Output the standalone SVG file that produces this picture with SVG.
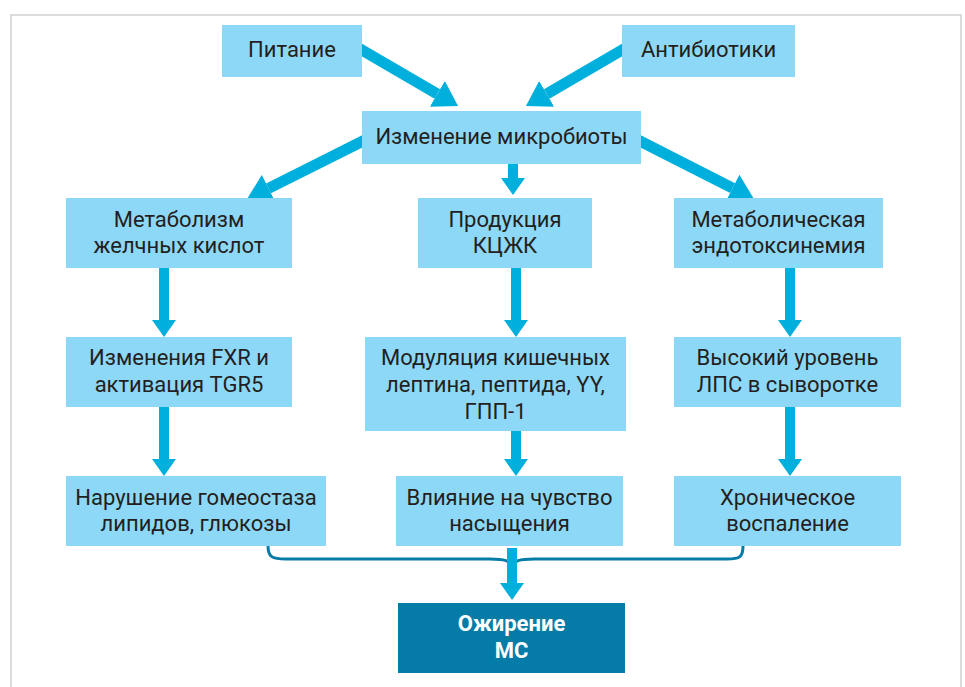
<svg xmlns="http://www.w3.org/2000/svg" width="965" height="687" viewBox="0 0 965 687">
<style>
.box{fill:#8ed8f7}
.dark{fill:#047ca7}
.t{font-family:Roboto,"Liberation Sans",sans-serif;font-size:22px;fill:#231f20;text-anchor:middle}
.w{font-family:Roboto,"Liberation Sans",sans-serif;font-size:22px;font-weight:bold;fill:#ffffff;text-anchor:middle}
.sh{stroke:#00afdc;stroke-width:10;fill:none}
.shd{stroke:#00afdc;stroke-width:11;fill:none}
</style>
<defs>
<marker id="ah" markerUnits="userSpaceOnUse" viewBox="0 -12 17 24" markerWidth="17" markerHeight="24" refX="0" refY="0" orient="auto">
<path d="M0,-12 L17,0 L0,12 z" fill="#00afdc"/>
</marker>
<marker id="ahd" markerUnits="userSpaceOnUse" viewBox="0 -15 24 30" markerWidth="24" markerHeight="30" refX="0" refY="0" orient="auto">
<path d="M0,-15 L24,0 L0,15 z" fill="#00afdc"/>
</marker>
</defs>
<rect x="0" y="0" width="965" height="687" fill="#ffffff"/>
<rect x="11" y="15" width="950" height="700" fill="none" stroke="#cfcfcf" stroke-width="1.5"/>
<g id="connectors">
<line class="shd" x1="355" y1="46" x2="437.3" y2="93.9" marker-end="url(#ahd)"/>
<line class="shd" x1="629" y1="46" x2="546.7" y2="93.9" marker-end="url(#ahd)"/>
<line class="shd" x1="369" y1="138" x2="268.5" y2="188.3" marker-end="url(#ahd)"/>
<line class="shd" x1="634" y1="138" x2="732.6" y2="188.1" marker-end="url(#ahd)"/>
<line class="sh" x1="513" y1="160" x2="513" y2="178" marker-end="url(#ah)"/>
<line class="sh" x1="164" y1="265" x2="164" y2="320" marker-end="url(#ah)"/>
<line class="sh" x1="516" y1="265" x2="516" y2="320" marker-end="url(#ah)"/>
<line class="sh" x1="790" y1="265" x2="790" y2="320" marker-end="url(#ah)"/>
<line class="sh" x1="164" y1="404" x2="164" y2="459" marker-end="url(#ah)"/>
<line class="sh" x1="516" y1="428" x2="516" y2="459" marker-end="url(#ah)"/>
<line class="sh" x1="790" y1="404" x2="790" y2="459" marker-end="url(#ah)"/>
<path d="M268,546 C268,557 272,559 286,559 L490,559 C505,559 510,561 512,566 C514,561 519,559 534,559 L727,559 C740,559 743,557 743,546" fill="none" stroke="#047ca7" stroke-width="3"/>
<line class="sh" x1="512" y1="548" x2="512" y2="583" marker-end="url(#ah)"/>
</g>
<g id="n-pitanie"><rect class="box" x="222" y="25" width="140" height="52"/><text class="t" x="292" y="57">Питание</text></g>
<g id="n-antibiotiki"><rect class="box" x="622" y="25" width="173" height="52"/><text class="t" x="708.5" y="57">Антибиотики</text></g>
<g id="n-mikrobiota"><rect class="box" x="362" y="111" width="279" height="53"/><text class="t" x="501.5" y="144">Изменение микробиоты</text></g>
<g id="n-metab-zhk"><rect class="box" x="66" y="198" width="226" height="70"/><text class="t" x="179" y="227">Метаболизм</text><text class="t" x="179" y="253">желчных кислот</text></g>
<g id="n-kczhk"><rect class="box" x="418" y="198" width="174" height="70"/><text class="t" x="505" y="227">Продукция</text><text class="t" x="505" y="253">КЦЖК</text></g>
<g id="n-endotox"><rect class="box" x="674" y="198" width="209" height="70"/><text class="t" x="778.5" y="227">Метаболическая</text><text class="t" x="778.5" y="253">эндотоксинемия</text></g>
<g id="n-fxr"><rect class="box" x="66" y="337" width="226" height="70"/><text class="t" x="179" y="365">Изменения FXR и</text><text class="t" x="179" y="392">активация TGR5</text></g>
<g id="n-modul"><rect class="box" x="365" y="337" width="261" height="94"/><text class="t" x="495.5" y="365">Модуляция кишечных</text><text class="t" x="495.5" y="392">лептина, пептида, YY,</text><text class="t" x="495.5" y="419">ГПП-1</text></g>
<g id="n-lps"><rect class="box" x="674" y="337" width="227" height="70"/><text class="t" x="787.5" y="365">Высокий уровень</text><text class="t" x="787.5" y="392">ЛПС в сыворотке</text></g>
<g id="n-gomeostaz"><rect class="box" x="66" y="476" width="260" height="70"/><text class="t" x="196" y="505">Нарушение гомеостаза</text><text class="t" x="196" y="531">липидов, глюкозы</text></g>
<g id="n-nasysh"><rect class="box" x="396" y="476" width="227" height="70"/><text class="t" x="509.5" y="505">Влияние на чувство</text><text class="t" x="509.5" y="531">насыщения</text></g>
<g id="n-vospal"><rect class="box" x="674" y="476" width="227" height="70"/><text class="t" x="787.5" y="505">Хроническое</text><text class="t" x="787.5" y="531">воспаление</text></g>
<g id="n-ozhirenie"><rect class="dark" x="398" y="603" width="227" height="70"/><text class="w" x="511.5" y="631">Ожирение</text><text class="w" x="511.5" y="658">МС</text></g>
</svg>
